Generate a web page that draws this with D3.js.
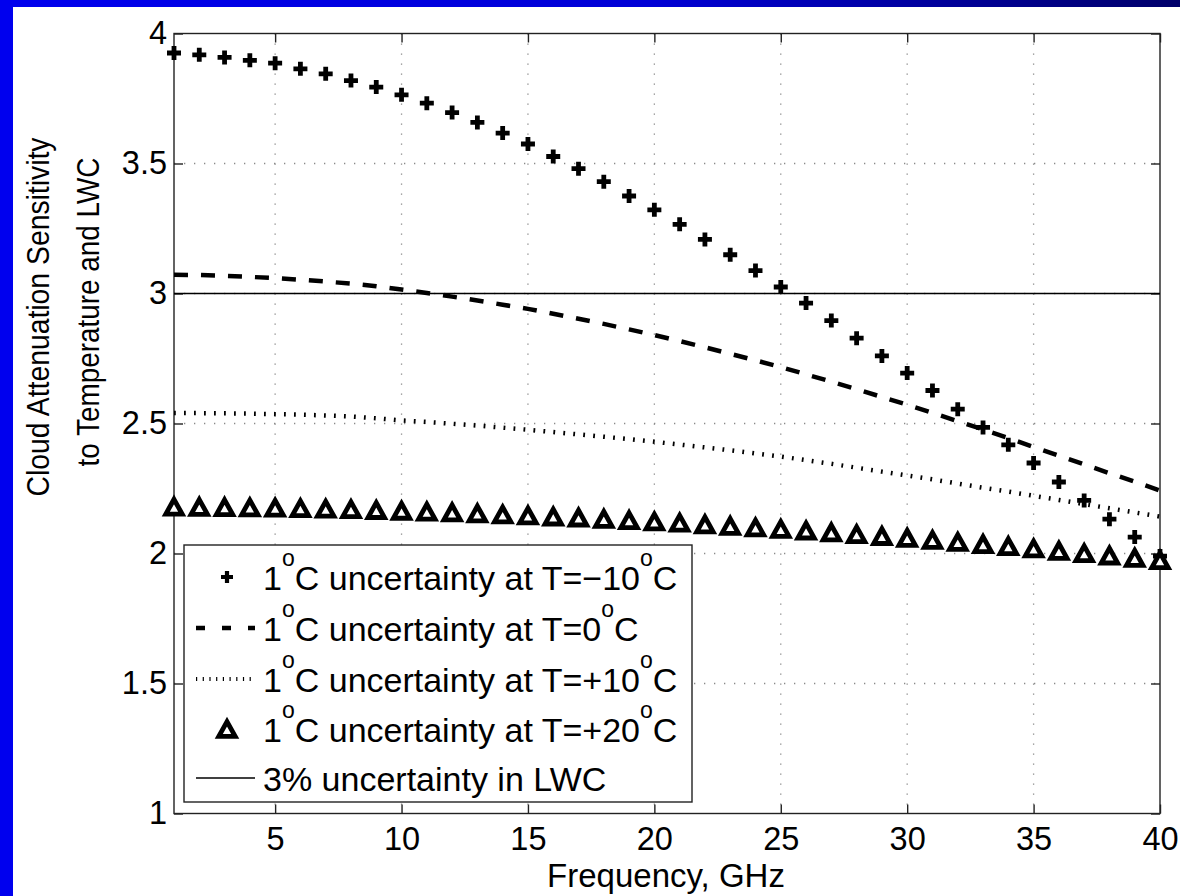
<!DOCTYPE html>
<html>
<head>
<meta charset="utf-8">
<script src="https://cdn.jsdelivr.net/npm/d3@7"></script>
<style>
  html, body { margin: 0; padding: 0; background: #ffffff; }
  svg { display: block; }
  text { font-family: "Liberation Sans", Arial, Helvetica, sans-serif; fill: #000; }
</style>
</head>
<body>
<svg id="chart" width="1180" height="896"></svg>
<script>
// Frequencies (GHz) at which the sensitivity was evaluated
const frequencyGHz = [1, 2, 3, 4, 5, 6, 7, 8, 9, 10, 11, 12, 13, 14, 15, 16, 17, 18, 19, 20,
                      21, 22, 23, 24, 25, 26, 27, 28, 29, 30, 31, 32, 33, 34, 35, 36, 37, 38, 39, 40];

// 1 °C temperature uncertainty at T = -10 °C
const sensTminus10 = [3.925, 3.918, 3.908, 3.897, 3.886, 3.864, 3.845, 3.819, 3.794, 3.764,
                      3.732, 3.696, 3.658, 3.617, 3.575, 3.527, 3.480, 3.430, 3.375, 3.322,
                      3.266, 3.208, 3.149, 3.088, 3.025, 2.963, 2.896, 2.828, 2.760, 2.694,
                      2.627, 2.555, 2.485, 2.418, 2.348, 2.275, 2.204, 2.132, 2.063, 1.990];

// 1 °C temperature uncertainty at T = 0 °C
const sensT0 = [3.072, 3.071, 3.068, 3.064, 3.059, 3.053, 3.046, 3.038, 3.028, 3.015,
                3.002, 2.988, 2.973, 2.957, 2.941, 2.922, 2.903, 2.883, 2.862, 2.840,
                2.817, 2.793, 2.768, 2.743, 2.717, 2.689, 2.661, 2.632, 2.602, 2.572,
                2.541, 2.509, 2.477, 2.444, 2.410, 2.376, 2.343, 2.309, 2.276, 2.242];

// 1 °C temperature uncertainty at T = +10 °C
const sensTplus10 = [2.540, 2.540, 2.539, 2.538, 2.536, 2.534, 2.531, 2.527, 2.520, 2.512,
                     2.506, 2.499, 2.492, 2.484, 2.476, 2.467, 2.458, 2.449, 2.440, 2.430,
                     2.419, 2.408, 2.397, 2.385, 2.373, 2.359, 2.345, 2.330, 2.315, 2.300,
                     2.285, 2.269, 2.253, 2.238, 2.222, 2.206, 2.190, 2.174, 2.158, 2.142];

// 1 °C temperature uncertainty at T = +20 °C
const sensTplus20 = [2.180, 2.179, 2.178, 2.177, 2.176, 2.174, 2.172, 2.170, 2.167, 2.164,
                     2.161, 2.158, 2.154, 2.150, 2.146, 2.142, 2.138, 2.133, 2.128, 2.123,
                     2.118, 2.112, 2.106, 2.100, 2.094, 2.088, 2.081, 2.074, 2.067, 2.060,
                     2.052, 2.044, 2.036, 2.028, 2.019, 2.010, 2.001, 1.992, 1.983, 1.974];

// 3 % uncertainty in liquid water content (constant reference level)
const lwcLevel = [3, 3];
const lwcFreq = [1, 40];

const xTickValues = [5, 10, 15, 20, 25, 30, 35, 40];
const yTickValues = [1, 1.5, 2, 2.5, 3, 3.5, 4];

const xDomain = [1, 40];
const yDomain = [1, 4];

const xAxisTitle = "Frequency, GHz";
const yAxisTitle = ["Cloud Attenuation Sensitivity", "to Temperature and LWC"];

// Legend entries: pieces of text, {sup} marks the degree superscript
const legendEntries = [
  { key: "plus",  parts: ["1", {sup: "o"}, "C uncertainty at T=\u221210", {sup: "o"}, "C"] },
  { key: "dash",  parts: ["1", {sup: "o"}, "C uncertainty at T=0", {sup: "o"}, "C"] },
  { key: "dot",   parts: ["1", {sup: "o"}, "C uncertainty at T=+10", {sup: "o"}, "C"] },
  { key: "tri",   parts: ["1", {sup: "o"}, "C uncertainty at T=+20", {sup: "o"}, "C"] },
  { key: "solid", parts: ["3% uncertainty in LWC"] }
];

// ---------------------------------------------------------------------------
const svg = d3.select("#chart");
const W = 1180, H = 896;

// Slide frame: blue strip on the left and a shaded bar on top
const defs = svg.append("defs");
const grad = defs.append("linearGradient").attr("id", "topbar")
  .attr("x1", "0%").attr("x2", "100%").attr("y1", "0%").attr("y2", "0%");
grad.append("stop").attr("offset", "0%").attr("stop-color", "#0000ee");
grad.append("stop").attr("offset", "55%").attr("stop-color", "#0000d6");
grad.append("stop").attr("offset", "100%").attr("stop-color", "#00006a");

svg.append("rect").attr("x", 0).attr("y", 0).attr("width", W).attr("height", H).attr("fill", "#fff");
svg.append("rect").attr("x", 0).attr("y", 0).attr("width", W).attr("height", 7).attr("fill", "url(#topbar)");
svg.append("rect").attr("x", 0).attr("y", 0).attr("width", 13).attr("height", H).attr("fill", "#0000ee");

// Plot area
const plotL = 174, plotR = 1160, plotT = 33.5, plotB = 813.5;
const x = d3.scaleLinear().domain(xDomain).range([plotL, plotR]);
const y = d3.scaleLinear().domain(yDomain).range([plotB, plotT]);

const FONT = 32.5;
const LEGEND_FONT = 34;
const SUP_SIZE = 23, SUP_RISE = 23.5;

// Dotted grid
const grid = svg.append("g").attr("stroke", "#8a8a8a").attr("stroke-width", 1.3)
  .attr("stroke-dasharray", "1.3,8.7").attr("fill", "none");
xTickValues.filter(v => v > xDomain[0] && v < xDomain[1]).forEach(v => {
  grid.append("line").attr("x1", x(v)).attr("x2", x(v)).attr("y1", plotT).attr("y2", plotB);
});
yTickValues.filter(v => v > yDomain[0] && v < yDomain[1]).forEach(v => {
  grid.append("line").attr("x1", plotL).attr("x2", plotR).attr("y1", y(v)).attr("y2", y(v));
});

// Axes with inward ticks on all four sides
function styleAxis(g) {
  g.select(".domain").remove();
  g.selectAll(".tick line").attr("stroke", "#222").attr("stroke-width", 1.4);
  g.selectAll(".tick text").attr("font-size", FONT).attr("fill", "#000")
    .style("font-family", "\"Liberation Sans\", Arial, Helvetica, sans-serif");
}
svg.append("g").attr("transform", `translate(0,${plotB})`)
  .call(d3.axisBottom(x).tickValues(xTickValues).tickSize(-9).tickPadding(13.5).tickFormat(d3.format("d")))
  .call(styleAxis);
svg.append("g").attr("transform", `translate(0,${plotT})`)
  .call(d3.axisTop(x).tickValues(xTickValues).tickSize(-9).tickFormat(""))
  .call(styleAxis);
svg.append("g").attr("transform", `translate(${plotL},0)`)
  .call(d3.axisLeft(y).tickValues(yTickValues).tickSize(-9).tickPadding(7).tickFormat(d3.format("")))
  .call(styleAxis);
svg.append("g").attr("transform", `translate(${plotR},0)`)
  .call(d3.axisRight(y).tickValues(yTickValues).tickSize(-9).tickFormat(""))
  .call(styleAxis);

svg.append("rect").attr("x", plotL).attr("y", plotT)
  .attr("width", plotR - plotL).attr("height", plotB - plotT)
  .attr("fill", "none").attr("stroke", "#222").attr("stroke-width", 1.4);

// Marker shapes
const plusPath = (cx, cy, r) => `M${cx - r},${cy}H${cx + r}M${cx},${cy - r}V${cy + r}`;
const triPath = (cx, cy, hw, hh) => `M${cx},${cy - hh}L${cx + hw},${cy + hh}L${cx - hw},${cy + hh}Z`;

const lineGen = d3.line().x(d => x(d[0])).y(d => y(d[1]));
const zip = (xs, ys) => xs.map((v, i) => [v, ys[i]]);

// T = -10 °C : plus markers
svg.append("g").selectAll("path").data(zip(frequencyGHz, sensTminus10)).join("path")
  .attr("d", d => plusPath(x(d[0]), y(d[1]), 7))
  .attr("stroke", "#000").attr("stroke-width", 4.8).attr("fill", "none");

// T = 0 °C : dashed curve
svg.append("path").datum(zip(frequencyGHz, sensT0)).attr("d", lineGen)
  .attr("fill", "none").attr("stroke", "#000").attr("stroke-width", 4.5)
  .attr("stroke-dasharray", "14,13");

// T = +10 °C : dotted curve
svg.append("path").datum(zip(frequencyGHz, sensTplus10)).attr("d", lineGen)
  .attr("fill", "none").attr("stroke", "#000").attr("stroke-width", 4.5)
  .attr("stroke-dasharray", "1.8,8.2");

// T = +20 °C : open triangles
svg.append("g").selectAll("path").data(zip(frequencyGHz, sensTplus20)).join("path")
  .attr("d", d => triPath(x(d[0]), y(d[1]), 8.2, 7.4))
  .attr("stroke", "#000").attr("stroke-width", 4.8).attr("stroke-linejoin", "miter")
  .attr("fill", "#fff");

// 3 % LWC uncertainty : thin solid line
svg.append("path").datum(zip(lwcFreq, lwcLevel)).attr("d", lineGen)
  .attr("fill", "none").attr("stroke", "#000").attr("stroke-width", 1.5);

// Legend
const lg = svg.append("g");
lg.append("rect").attr("x", 184).attr("y", 545).attr("width", 508).attr("height", 257)
  .attr("fill", "#fff").attr("stroke", "#222").attr("stroke-width", 1.4);

const rowY = [577, 628, 679, 729, 778];
const sampleX0 = 196, sampleX1 = 255, sampleMid = 227, textX = 263;

legendEntries.forEach((e, i) => {
  const cy = rowY[i];
  if (e.key === "plus") {
    lg.append("path").attr("d", plusPath(sampleMid, cy, 6))
      .attr("stroke", "#000").attr("stroke-width", 4.2).attr("fill", "none");
  } else if (e.key === "dash") {
    lg.append("line").attr("x1", sampleX0).attr("x2", sampleX1).attr("y1", cy).attr("y2", cy)
      .attr("stroke", "#000").attr("stroke-width", 4.5).attr("stroke-dasharray", "9,17");
  } else if (e.key === "dot") {
    lg.append("line").attr("x1", sampleX0).attr("x2", sampleX1).attr("y1", cy).attr("y2", cy)
      .attr("stroke", "#000").attr("stroke-width", 4).attr("stroke-dasharray", "1.2,5.5");
  } else if (e.key === "tri") {
    lg.append("path").attr("d", triPath(sampleMid, cy, 8.2, 7.4))
      .attr("stroke", "#000").attr("stroke-width", 4.8).attr("fill", "#fff");
  } else {
    lg.append("line").attr("x1", sampleX0).attr("x2", sampleX1).attr("y1", cy).attr("y2", cy)
      .attr("stroke", "#000").attr("stroke-width", 1.5);
  }
  const t = lg.append("text").attr("x", textX).attr("y", cy + 12.5).attr("font-size", LEGEND_FONT);
  let raised = false;
  e.parts.forEach(p => {
    if (typeof p === "string") {
      const s = t.append("tspan").text(p);
      if (raised) { s.attr("dy", SUP_RISE); raised = false; }
    } else {
      t.append("tspan").attr("font-size", SUP_SIZE).attr("dy", -SUP_RISE).text(p.sup);
      raised = true;
    }
  });
});

// Axis titles
svg.append("text").attr("x", (plotL + plotR) / 2 - 1).attr("y", 887)
  .attr("text-anchor", "middle").attr("font-size", 33).text(xAxisTitle);

svg.append("text").attr("transform", "translate(49,317) rotate(-90)")
  .attr("text-anchor", "middle").attr("font-size", 32)
  .attr("textLength", 359).attr("lengthAdjust", "spacingAndGlyphs").text(yAxisTitle[0]);
svg.append("text").attr("transform", "translate(99,312) rotate(-90)")
  .attr("text-anchor", "middle").attr("font-size", 32)
  .attr("textLength", 309).attr("lengthAdjust", "spacingAndGlyphs").text(yAxisTitle[1]);
</script>
</body>
</html>
